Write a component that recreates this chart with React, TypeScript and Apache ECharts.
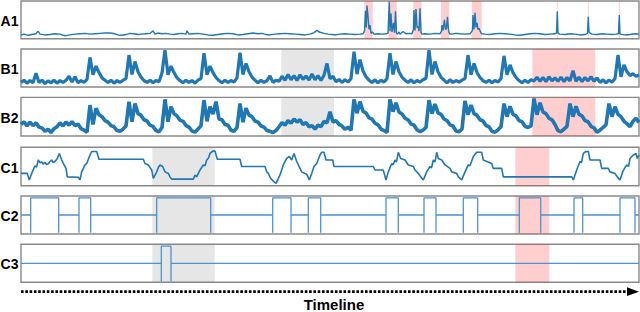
import React, { useEffect, useRef } from "react";
import * as echarts from "echarts";

// ---- data (time axis 0..618) ----
const panelNames = ["A1", "B1", "B2", "C1", "C2", "C3"];

const a1Points: [number, number][] = [
  [0, 10], [3, 12], [7, 9], [11, 11], [15, 13], [17, 20], [19, 12], [24, 10], [29, 11], [34, 13], [39, 12], [42, 9], [45, 8], [49, 10], [54, 12], [59, 13], [64, 14], [69, 12], [74, 13], [79, 14], [84, 15], [89, 15], [94, 13], [97, 10], [101, 9], [105, 11], [109, 14], [113, 13], [117, 11], [121, 12], [125, 13], [129, 14], [132, 21], [134, 12], [137, 15], [141, 13], [145, 14], [149, 12], [153, 11], [157, 13], [161, 14], [165, 12], [166, 21], [168, 12], [172, 13], [177, 14], [182, 12], [187, 10], [192, 9], [197, 11], [202, 13], [207, 14], [212, 13], [217, 10], [222, 11], [227, 13], [232, 15], [237, 13], [241, 14], [245, 11], [249, 10], [254, 12], [259, 13], [264, 14], [269, 13], [274, 12], [279, 11], [284, 10], [289, 12], [293, 16], [296, 22], [299, 17], [303, 14], [307, 12], [311, 11], [315, 10], [319, 12], [324, 13], [329, 12], [334, 11], [339, 12], [342, 13],
  [343.5, 20], [344.5, 74], [345.3, 30], [346, 88], [347, 60], [348, 25], [349, 36], [350, 14], [351.5, 18],
  [353, 12], [357, 13], [361, 12], [365, 13], [367, 14],
  [368.3, 98], [369, 20], [370, 67], [371, 18], [372.5, 42], [373.5, 16], [374.5, 73], [375.5, 15], [376.5, 12],
  [378, 18], [379, 12], [382, 19], [385, 13], [389, 14], [391, 13],
  [392.5, 25], [393, 76], [394, 22], [395, 79], [396, 30], [397, 32], [398, 20], [399, 81], [400, 16], [401, 12],
  [404, 13], [409, 12], [414, 14], [419, 13],
  [420.5, 20], [421, 36], [422, 22], [423.5, 50], [424.5, 24], [425.5, 28], [426.5, 58], [427.5, 22], [428.5, 13],
  [431, 12], [435, 14], [439, 13], [444, 12], [449, 13],
  [451.5, 22], [452, 63], [453, 25], [454, 69], [455, 30], [456, 42], [457, 24], [458, 28], [459.5, 18], [460.5, 13],
  [464, 12], [469, 11], [474, 13], [479, 14], [484, 13], [489, 12], [494, 10], [499, 9], [504, 11], [509, 13], [514, 14], [519, 13], [524, 11], [529, 12], [534, 13], [535.5, 15], [536.3, 72], [537, 14], [539, 12], [544, 11], [549, 13], [554, 12], [559, 10], [564, 11], [566.5, 14], [567.3, 58], [568, 18], [569, 15], [571, 12], [576, 11], [581, 13], [586, 12], [591, 11], [595, 12], [597.5, 13], [598.3, 63], [599, 12], [604, 10], [609, 11], [614, 13], [618, 12],
];

// B1 / B2 sampled every 3 time units
const b1Values = [
  12, 18, 10, 17, 11, 36, 12, 18, 9, 16, 11, 18, 10, 17, 12, 18, 28, 13, 27, 11, 17, 12, 20,
  78, 32, 55, 38, 24, 18, 12, 18, 10, 17, 12, 18, 22,
  84, 33, 67, 40, 26, 17, 12, 18, 11, 17, 14, 37,
  97, 32, 55, 38, 24, 17, 11, 18, 12, 17, 10, 18, 22,
  89, 32, 55, 38, 25, 17, 11, 18, 12, 17, 13, 24,
  90, 33, 62, 40, 26, 18, 11, 18, 12, 17, 29, 12, 18, 15,
  28, 18, 33, 19, 30, 17, 32, 20, 29, 18, 34, 19, 30, 17, 31, 62, 22, 28,
  14, 20, 12, 19, 13, 22,
  93, 34, 72, 42, 27, 18, 12, 19, 11, 18, 13, 22,
  89, 33, 67, 40, 26, 18, 12, 19, 11, 17, 13, 19, 23,
  97, 33, 67, 40, 26, 18, 11, 19, 12, 17, 13, 18, 22,
  84, 32, 62, 38, 25, 17, 12, 18, 11, 17, 13, 22,
  82, 32, 58, 38, 25, 17, 11, 18, 12, 19,
  16, 26, 15, 25, 14, 27, 16, 24, 15, 26, 14, 25, 16, 43, 15, 26, 14, 25, 16, 27, 15, 24,
  12, 19, 11, 18, 13, 22,
  84, 27, 58, 40, 30, 35, 28, 32,
];

const b2Values = [
  30, 37, 26, 36, 27, 34, 23, 21, 12, 18, 9, 19, 24, 34, 26, 36, 28, 37, 27, 31, 19, 15, 10,
  80, 30, 72, 55, 50, 40, 36, 27, 24, 14, 12, 18, 26,
  89, 37, 84, 58, 54, 42, 39, 28, 25, 14, 11, 22,
  95, 37, 76, 58, 52, 41, 38, 27, 23, 13, 10, 18, 27,
  93, 38, 76, 57, 89, 44, 42, 30, 28, 15, 12, 22,
  84, 36, 72, 54, 50, 39, 36, 26, 23, 14, 12, 9, 14,
  24, 35, 28, 40, 33, 44, 36, 42, 30, 35, 24, 27, 18, 28, 24, 38, 34, 63, 36, 40,
  30, 26, 17, 23, 15,
  95, 59, 89, 64, 60, 47, 44, 33, 29, 18, 14, 9,
  95, 63, 86, 62, 57, 46, 42, 31, 28, 16, 11, 15, 22,
  93, 58, 83, 60, 56, 44, 40, 29, 26, 13, 11, 18,
  91, 55, 80, 58, 54, 42, 39, 27, 24, 12, 10, 16, 24,
  84, 50, 77, 56, 52, 40, 37, 25, 22, 26,
  97, 55, 86, 62, 58, 46, 42, 30, 14, 11, 18, 25,
  84, 50, 77, 56, 52, 40, 37, 25, 21, 10, 15, 22, 29,
  84, 50, 76, 56, 50, 38, 32, 24, 38, 46, 35,
];

const c1Points: [number, number][] = [
  [0, 32], [6.3, 32], [8.3, 15], [10.7, 32], [14, 52], [15.5, 48], [17.3, 67], [19, 60], [20.7, 62], [22, 56], [24, 61], [25.5, 55], [27.3, 57], [29, 63], [30.7, 67], [32.3, 60], [34, 63], [36.3, 71], [38.3, 84], [40.7, 67], [42.3, 58], [45, 45], [46.3, 23], [57.3, 22], [59, 15], [60.7, 36], [64, 54], [65.7, 58], [69, 80], [70.7, 89], [75.7, 89], [78, 69],
  [122.3, 69], [124, 58], [127.3, 54], [130.7, 41], [132.3, 19], [135.7, 36], [137.5, 48], [139, 54], [141.7, 50], [144, 36], [147.3, 32], [149, 23], [150.7, 17], [172.3, 17], [174, 28], [175.7, 23], [179, 41], [182.3, 54], [184, 52], [185.7, 67], [187.5, 72], [189, 84], [191.7, 90], [194, 90], [196.3, 69],
  [219, 69], [220.7, 50], [244, 50], [245.7, 36], [247.3, 32], [249.7, 19], [253, 10], [255, 6], [259, 28], [262.3, 54], [265.7, 71], [268.3, 76], [270.7, 67], [273, 84], [275.7, 63], [279, 45], [280.7, 36], [284, 32], [285.7, 30], [288.3, 15], [290.7, 32], [293, 50], [295.7, 58], [299, 80], [300.7, 87], [303, 87], [305, 67], [311.7, 67], [313, 50],
  [352.3, 50], [354, 41], [362.3, 41], [365, 15], [367.3, 36], [370.7, 58], [372, 54], [374, 67], [375.5, 62], [377.3, 87], [379.7, 71], [384, 67], [387.3, 54], [392.3, 50], [394, 41], [397.3, 32], [399.7, 23], [402.3, 15], [405.7, 36], [409, 50], [410.5, 46], [412.3, 67], [414, 62], [415.7, 87], [417.3, 71], [420.7, 67], [424, 54], [429, 45], [430.7, 36], [435.7, 32], [437.3, 23], [440.7, 15], [444, 36], [447.3, 54], [449, 52], [452.3, 76], [455.7, 87], [460.7, 87], [462.3, 67], [470.7, 58], [472.3, 45], [480.7, 45], [482.3, 23],
  [550.7, 23], [552.3, 15], [555.7, 41], [559, 63], [560.5, 60], [562.3, 84], [565, 89], [567.3, 89], [569, 67], [579, 67], [580.7, 45], [587.3, 45], [589, 36], [594, 32], [596.3, 23], [599, 15], [601.7, 36], [603.5, 45], [605.7, 54], [607.5, 50], [609, 71], [612.3, 80], [615, 84], [616.3, 71], [618, 80],
];

const c2Pulses: [number, number][] = [
  [9.7, 37.7], [58, 69.7], [135.7, 189.7], [251.7, 270], [287.3, 299.7], [365, 377.3], [403, 415], [442.3, 456.7], [498.3, 519.7], [553, 561.7], [599, 614],
];
const c3Pulses: [number, number][] = [[140.3, 150]];

const a1Red: [number, number][] = [
  [343.3, 351.7], [367.3, 375.7], [392.3, 400.7], [420, 428.3], [450.7, 460.7], [535.8, 536.8], [566.8, 567.8], [597.8, 598.8],
];
const bGray: [number, number][] = [[260.3, 313]];
const bRed: [number, number][] = [[511.3, 574.3]];
const cGray: [number, number][] = [[131.3, 193.7]];
const cRed: [number, number][] = [[494.3, 528.3]];

const STEP = 3;
const MID = 50;
const LOW = 3;
const HIGH = 95;

function pulseSeries(pulses: [number, number][]): [number, number][] {
  const out: [number, number][] = [[0, MID]];
  pulses.forEach(([a, b]) => {
    out.push([a, MID], [a, LOW], [a, HIGH], [b, HIGH], [b, LOW], [b, MID]);
  });
  out.push([618, MID]);
  return out;
}

const RED = "rgba(255, 0, 0, 0.19)";
const GRAY = "rgba(120, 120, 120, 0.19)";

function areas(gray: [number, number][], red: [number, number][]) {
  const d: any[] = [];
  gray.forEach(([a, b]) => d.push([{ xAxis: a, itemStyle: { color: GRAY } }, { xAxis: b }]));
  red.forEach(([a, b]) => d.push([{ xAxis: a, itemStyle: { color: RED } }, { xAxis: b }]));
  return d;
}

const layout = [
  { top: 1, height: 37.7 },
  { top: 49, height: 38 },
  { top: 97.4, height: 38.6 },
  { top: 147.3, height: 38.4 },
  { top: 196, height: 38 },
  { top: 244.3, height: 38 },
];

export default function App() {
  const ref = useRef<HTMLDivElement>(null);
  useEffect(() => {
    if (!ref.current) return;
    const chart = echarts.init(ref.current, undefined, { renderer: "svg" });
    const DARK = "#1f77b4";
    const LIGHT = "#4a94cf";
    const seriesDefs = [
      { data: a1Points, color: DARK, width: 1.4, ma: areas([], a1Red) },
      { data: b1Values.map((v, i) => [i * STEP, v]), color: DARK, width: 3.2, ma: areas(bGray, bRed) },
      { data: b2Values.map((v, i) => [i * STEP, v]), color: DARK, width: 3.6, ma: areas(bGray, bRed) },
      { data: c1Points, color: DARK, width: 1.6, ma: areas(cGray, cRed) },
      { data: pulseSeries(c2Pulses), color: LIGHT, width: 1.3, ma: areas(cGray, cRed) },
      { data: pulseSeries(c3Pulses), color: LIGHT, width: 1.3, ma: areas(cGray, cRed) },
    ];
    const font = "'Liberation Sans', Arial, Helvetica, sans-serif";
    const graphics: any[] = panelNames.map((n, i) => ({
      type: "text",
      x: 18.5,
      y: layout[i].top + layout[i].height / 2 + 1,
      style: {
        text: n,
        align: "right",
        verticalAlign: "middle",
        font: `bold 14px ${font}`,
        fill: "#000",
      },
    }));
    graphics.push(
      {
        type: "line",
        shape: { x1: 21, y1: 291.7, x2: 629, y2: 291.7 },
        style: { stroke: "#000", lineWidth: 2.7, lineDash: [2.6, 1.7] },
      },
      {
        type: "polygon",
        shape: { points: [[627, 287.3], [639, 291.7], [627, 296.1]] },
        style: { fill: "#000" },
      },
      {
        type: "text",
        x: 334,
        y: 304,
        style: {
          text: "Timeline",
          align: "center",
          verticalAlign: "middle",
          font: `bold 15px ${font}`,
          fill: "#000",
        },
      }
    );
    chart.setOption({
      animation: false,
      grid: layout.map((l) => ({
        left: 21,
        width: 618,
        top: l.top,
        height: l.height,
        show: true,
        borderColor: "#8a8a8a",
        borderWidth: 1.4,
        backgroundColor: "transparent",
      })),
      xAxis: layout.map((_, i) => ({ type: "value", gridIndex: i, min: 0, max: 618, show: false })),
      yAxis: layout.map((_, i) => ({ type: "value", gridIndex: i, min: 0, max: 100, show: false })),
      series: seriesDefs.map((s, i) => ({
        type: "line",
        xAxisIndex: i,
        yAxisIndex: i,
        data: s.data,
        symbol: "none",
        showSymbol: false,
        lineStyle: { color: s.color, width: s.width, join: "bevel" },
        itemStyle: { color: s.color },
        markArea: { silent: true, data: s.ma },
      })),
      graphic: graphics,
    });
    return () => chart.dispose();
  }, []);
  return (
    <div
      ref={ref}
      style={{ position: "absolute", left: 0, top: 0, width: 640, height: 312 }}
    />
  );
}
